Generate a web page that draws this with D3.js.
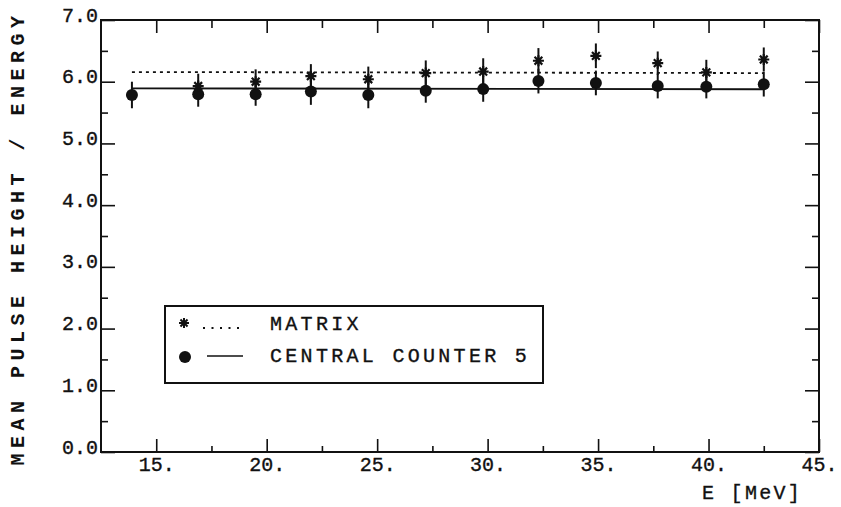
<!DOCTYPE html>
<html>
<head>
<meta charset="utf-8">
<script src="https://cdn.jsdelivr.net/npm/d3@7"></script>
<style>
  body { margin: 0; background: #fff; }
  svg { display: block; background: #fff; }
  text { font-family: "Courier New", "Liberation Mono", monospace; fill: #111; stroke: #111; stroke-width: 0.35px; }
</style>
</head>
<body>
<svg id="chart" width="841" height="507"></svg>
<script>
// Beam energy of each measurement [MeV]
const energy = [13.9, 16.9, 19.5, 22.0, 24.6, 27.2, 29.8, 32.3, 34.9, 37.7, 39.9, 42.5];

// Mean pulse height / energy, matrix sum (no point at the lowest energy)
const matrix    = [null, 5.93, 6.00, 6.09, 6.04, 6.14, 6.165, 6.34, 6.42, 6.30, 6.15, 6.36];
const matrixErr = [null, 0.20, 0.20, 0.195, 0.205, 0.205, 0.215, 0.205, 0.20, 0.19, 0.205, 0.195];

// Mean pulse height / energy, central counter 5
const counter5    = [5.785, 5.795, 5.795, 5.84, 5.785, 5.855, 5.88, 6.01, 5.98, 5.93, 5.92, 5.96];
const counter5Err = [0.215, 0.20, 0.185, 0.215, 0.215, 0.195, 0.205, 0.20, 0.20, 0.20, 0.19, 0.20];

// Straight-line fits, evaluated at the end points of the energy range
const fitEnergy  = [13.9, 42.5];
const matrixFit  = [6.157, 6.14];
const counterFit = [5.893, 5.878];

// Axis ticks
const xMajor = [15, 20, 25, 30, 35, 40, 45];
const xMinor = [17.5, 22.5, 27.5, 32.5, 37.5, 42.5];
const yMajor = [0, 1, 2, 3, 4, 5, 6, 7];
const yMinor = [0.5, 1.5, 2.5, 3.5, 4.5, 5.5, 6.5];

const legendLabels = ["MATRIX", "CENTRAL COUNTER 5"];

const ink = "#111";
const svg = d3.select("#chart");

const x = d3.scaleLinear().domain([12.5, 45]).range([101, 819]);
const y = d3.scaleLinear().domain([0, 7]).range([452, 20]);
const [x0, x1] = x.range();
const [yb, yt] = y.range();

// --- axes: ticks point into the frame on all four sides ---
function styleAxis(g) {
  g.select(".domain").remove();
  g.selectAll("line").attr("stroke", ink).attr("stroke-width", 1.6);
  g.selectAll("text").style("font-size", "20px");
}

// bottom
svg.append("g").attr("transform", `translate(0,${yb})`)
  .call(d3.axisBottom(x).tickValues(xMajor).tickSize(-13).tickFormat(d => d + "."))
  .call(styleAxis)
  .call(g => g.selectAll("text").attr("y", 19).attr("dy", 0));
svg.append("g").attr("transform", `translate(0,${yb})`)
  .call(d3.axisBottom(x).tickValues(xMinor).tickSize(-6).tickFormat(""))
  .call(styleAxis);

// top
svg.append("g").attr("transform", `translate(0,${yt})`)
  .call(d3.axisTop(x).tickValues(xMajor).tickSize(-13).tickFormat(""))
  .call(styleAxis);
svg.append("g").attr("transform", `translate(0,${yt})`)
  .call(d3.axisTop(x).tickValues(xMinor).tickSize(-8).tickFormat(""))
  .call(styleAxis);

// left
svg.append("g").attr("transform", `translate(${x0},0)`)
  .call(d3.axisLeft(y).tickValues(yMajor).tickSize(-14).tickFormat(d => d.toFixed(1)))
  .call(styleAxis)
  .call(g => g.selectAll("text").attr("x", -3).attr("dy", "0.05em"));
svg.append("g").attr("transform", `translate(${x0},0)`)
  .call(d3.axisLeft(y).tickValues(yMinor).tickSize(-7).tickFormat(""))
  .call(styleAxis);

// right
svg.append("g").attr("transform", `translate(${x1},0)`)
  .call(d3.axisRight(y).tickValues(yMajor).tickSize(-14).tickFormat(""))
  .call(styleAxis);
svg.append("g").attr("transform", `translate(${x1},0)`)
  .call(d3.axisRight(y).tickValues(yMinor).tickSize(-7).tickFormat(""))
  .call(styleAxis);

// frame
svg.append("rect")
  .attr("x", x0).attr("y", yt).attr("width", x1 - x0).attr("height", yb - yt)
  .attr("fill", "none").attr("stroke", ink).attr("stroke-width", 2);

// axis titles
svg.append("text")
  .attr("transform", `translate(24,238) rotate(-90)`)
  .attr("text-anchor", "middle")
  .style("font-size", "20px").style("font-weight", "bold").style("letter-spacing", "5.5px")
  .style("stroke-width", "0px")
  .text("MEAN PULSE HEIGHT / ENERGY");

svg.append("text")
  .attr("x", 702).attr("y", 499)
  .style("font-size", "20px").style("letter-spacing", "2.3px")
  .text("E [MeV]");

// --- fit lines ---
const fitLine = d3.line().x(d => x(d[0])).y(d => y(d[1]));
svg.append("path")
  .attr("d", fitLine(d3.zip(fitEnergy, matrixFit)))
  .attr("fill", "none").attr("stroke", ink).attr("stroke-width", 1.8)
  .attr("stroke-dasharray", "3,4");
svg.append("path")
  .attr("d", fitLine(d3.zip(fitEnergy, counterFit)))
  .attr("fill", "none").attr("stroke", ink).attr("stroke-width", 1.8);

// --- error bars ---
function errorBars(vals, errs) {
  const pts = energy.map((e, i) => ({ e, v: vals[i], s: errs[i] })).filter(d => d.v != null);
  svg.append("g").selectAll("line").data(pts).join("line")
    .attr("x1", d => x(d.e)).attr("x2", d => x(d.e))
    .attr("y1", d => y(d.v - d.s)).attr("y2", d => y(d.v + d.s))
    .attr("stroke", ink).attr("stroke-width", 2);
  return pts;
}
const counterPts = errorBars(counter5, counter5Err);
const matrixPts = errorBars(matrix, matrixErr);

// --- markers ---
function starPath(r) {
  let p = "";
  for (let k = 0; k < 4; k++) {
    const a = k * Math.PI / 4;
    const dx = r * Math.cos(a), dy = r * Math.sin(a);
    p += `M${-dx},${-dy}L${dx},${dy}`;
  }
  return p;
}
const star = starPath(5.5);

svg.append("g").selectAll("circle").data(counterPts).join("circle")
  .attr("cx", d => x(d.e)).attr("cy", d => y(d.v)).attr("r", 6)
  .attr("fill", ink);

svg.append("g").selectAll("path").data(matrixPts).join("path")
  .attr("transform", d => `translate(${x(d.e)},${y(d.v)})`)
  .attr("d", star).attr("stroke", ink).attr("stroke-width", 2.2).attr("fill", "none");

// --- legend ---
const lg = svg.append("g");
lg.append("rect")
  .attr("x", 165).attr("y", 306).attr("width", 378).attr("height", 77)
  .attr("fill", "#fff").attr("stroke", ink).attr("stroke-width", 2);

lg.append("path").attr("transform", "translate(184,323)")
  .attr("d", starPath(5)).attr("stroke", ink).attr("stroke-width", 2).attr("fill", "none");
lg.append("line").attr("x1", 203).attr("x2", 244).attr("y1", 328).attr("y2", 328)
  .attr("stroke", ink).attr("stroke-width", 2).attr("stroke-dasharray", "2,6.5");

lg.append("circle").attr("cx", 185).attr("cy", 357).attr("r", 6).attr("fill", ink);
lg.append("line").attr("x1", 207).attr("x2", 243).attr("y1", 356).attr("y2", 356)
  .attr("stroke", ink).attr("stroke-width", 1.6);

lg.selectAll("text.lab").data(legendLabels).join("text")
  .attr("class", "lab")
  .attr("x", 270).attr("y", (d, i) => 330 + i * 32)
  .style("font-size", "20px").style("letter-spacing", "3.3px")
  .text(d => d);
</script>
</body>
</html>
